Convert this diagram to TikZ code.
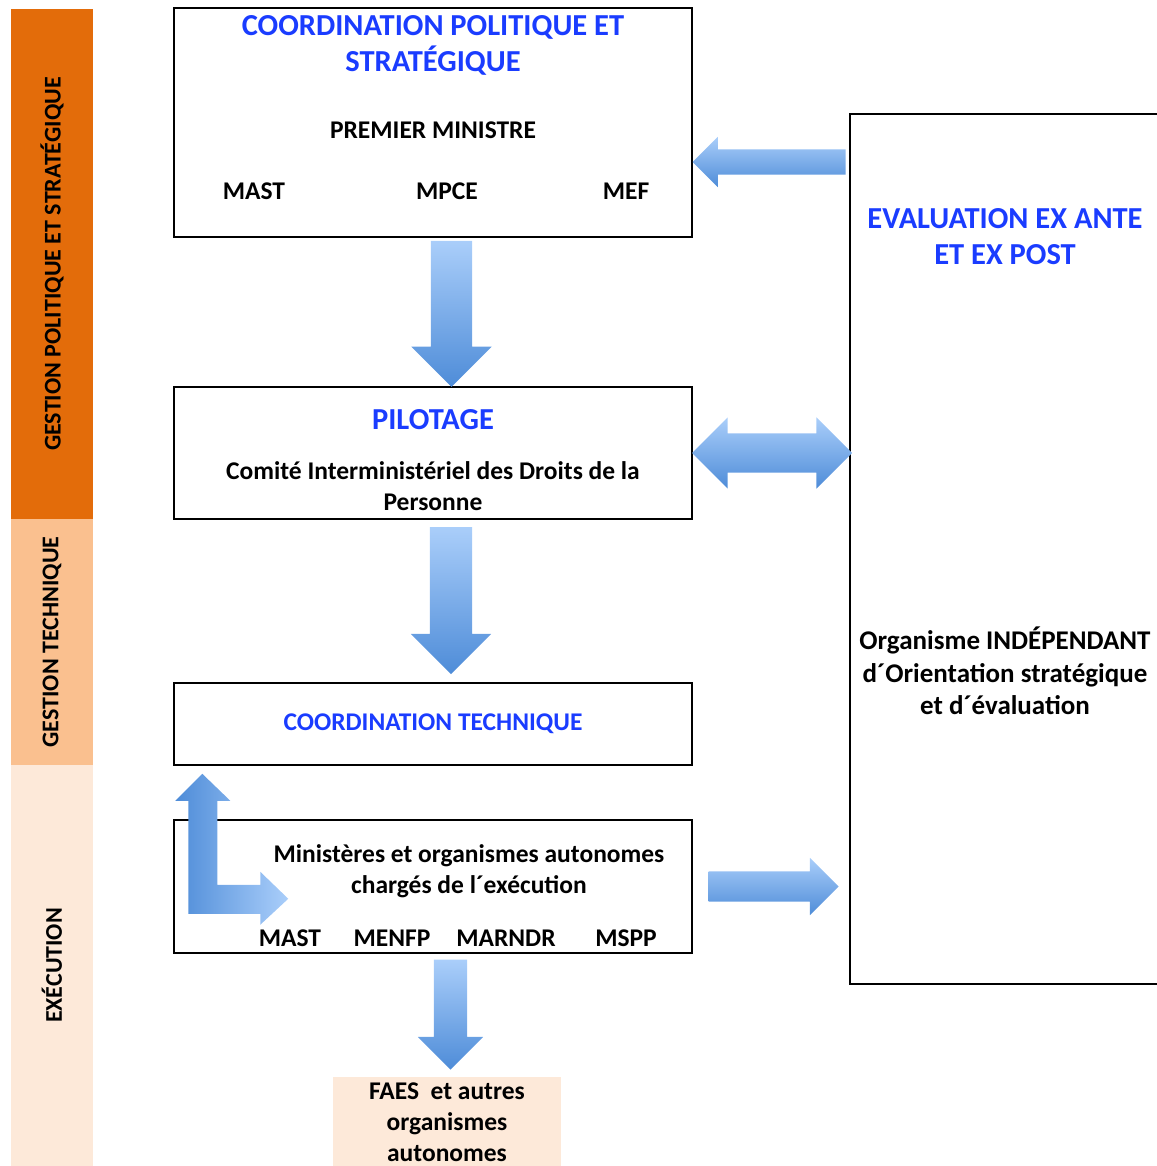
\documentclass[tikz,border=0pt]{standalone}
\usepackage{fontspec}
\setmainfont{Carlito}
\usepackage{xcolor}
\usepackage{tikz}
\usetikzlibrary{shapes,arrows,positioning,calc}

\definecolor{bandstrat}{RGB}{227,108,10}
\definecolor{bandtech}{RGB}{250,192,143}
\definecolor{bandexec}{RGB}{253,233,217}
\definecolor{titleblue}{RGB}{26,60,255}
\definecolor{arrowlight}{RGB}{170,206,250}
\definecolor{arrowdark}{RGB}{78,140,216}

\begin{document}
\begin{tikzpicture}[
    x=1pt, y=-1pt,
    box/.style={rectangle, draw, line width=1.5pt, minimum width=518pt, inner sep=0pt},
    band/.style={rectangle, minimum width=82pt, inner sep=0pt},
    bandtext/.style={rotate=90, font=\fontsize{24}{28}\selectfont\bfseries},
    heading/.style={text=titleblue, align=center, font=\fontsize{30.5}{36}\selectfont\bfseries},
    txt/.style={align=center, font=\fontsize{25.5}{31}\selectfont\bfseries},
    fat/.style={single arrow, draw=none, top color=arrowlight, bottom color=arrowdark, single arrow tip angle=90},
    fatboth/.style={double arrow, draw=none, top color=arrowlight, bottom color=arrowdark, double arrow tip angle=90}
]
    \useasboundingbox (0,0) rectangle (1156,1166);

    % levels on the left
    \node[band, fill=bandstrat, minimum height=510pt] (strat) at (52,264) {};
    \node[band, fill=bandtech, minimum height=246pt] (tech) at (52,642) {};
    \node[band, fill=bandexec, minimum height=401pt] (exec) at (52,965.5) {};
    \node[bandtext] (strattext) at (strat) {GESTION POLITIQUE ET STRATÉGIQUE};
    \node[bandtext] (techtext) at (tech) {GESTION TECHNIQUE};
    \node[bandtext] (exectext) at (exec) {EXÉCUTION};

    % boxes
    \node[box, minimum height=229pt] (cps) at (433,122.5) {};
    \node[heading] (cpstitle) at (433,45) {COORDINATION POLITIQUE ET\\STRATÉGIQUE};
    \node[txt] (pm) at (433,130) {PREMIER MINISTRE};
    \node[txt] (mast) at (254,191) {MAST};
    \node[txt] (mpce) at (447,191) {MPCE};
    \node[txt] (mef) at (626,191) {MEF};

    \node[box, minimum height=132pt] (pil) at (433,453) {};
    \node[heading] (piltitle) at (433,420) {PILOTAGE};
    \node[txt] (cidp) at (433,486) {Comité Interministériel des Droits de la\\Personne};

    \node[box, minimum height=82pt] (ct) at (433,724) {};
    \node[heading, font=\fontsize{25.5}{30}\selectfont\bfseries] (cttitle) at (ct) {COORDINATION TECHNIQUE};

    \node[box, minimum height=133pt] (exe) at (433,886.5) {};
    \node[txt] (exetext) at (469,871) {Ministères et organismes autonomes\\chargés de l´exécution};
    \node[txt] (mastb) at (290,938) {MAST};
    \node[txt] (menfp) at (392,938) {MENFP};
    \node[txt] (marndr) at (506,938) {MARNDR};
    \node[txt] (mspp) at (626,938) {MSPP};

    \node[rectangle, fill=bandexec, minimum width=228pt, minimum height=100pt] (faes) at (447,1127) {};
    \node[txt] (faestext) at (447,1122) {FAES~ et autres\\organismes\\autonomes};

    \node[box, minimum width=310pt, minimum height=870pt] (eval) at (1005,549) {};
    \node[heading] (evaltitle) at (1005,237) {EVALUATION EX ANTE\\ET EX POST};
    \node[txt, font=\fontsize{27}{32.5}\selectfont\bfseries] (evaltext) at (1005,671) {Organisme INDÉPENDANT\\d´Orientation stratégique\\et d´évaluation};

    % block arrows
    \node[fat, shape border rotate=270, inner sep=20.5pt, single arrow head extend=19.5pt, minimum height=146pt]
        (a1) at ($(cps.south)!0.5!(pil.north)+(18.5,-8.5)$) {};
    \node[fat, shape border rotate=270, inner sep=21pt, single arrow head extend=19pt, minimum height=147pt]
        (a2) at ($(pil.south)!0.5!(ct.north)+(18,-11)$) {};
    \node[fat, shape border rotate=270, inner sep=16.5pt, single arrow head extend=16pt, minimum height=110pt]
        (a3) at ($(exe.south)!0.5!(faes.north)+(10.5,-9)$) {};
    \node[fat, shape border rotate=180, inner sep=12.5pt, single arrow head extend=12.5pt, minimum height=153pt]
        (a4) at ($(cps.east)!0.5!(eval.west |- cps.east)+(4.5,39.5)$) {};
    \node[fatboth, inner sep=19.5pt, double arrow head extend=16pt, minimum height=160pt]
        (a5) at ($(pil.east)!0.5!(eval.west |- pil.east)+(1,0)$) {};
    \node[fat, inner sep=15pt, single arrow head extend=13.5pt, minimum height=130pt]
        (a6) at ($(exe.east)!0.5!(eval.west |- exe.east)+(-5,0)$) {};

    % bent arrow between coordination and execution
    \begin{scope}[shift={(ct.south west)}]
        \shade[left color=arrowdark, right color=arrowlight]
            (29,8) -- (57,35) -- (44,35) -- (44,119) -- (87,119) -- (87,106) -- (115,133)
            -- (87,159) -- (87,148) -- (15,148) -- (15,35) -- (2,35) -- cycle;
    \end{scope}
\end{tikzpicture}
\end{document}
